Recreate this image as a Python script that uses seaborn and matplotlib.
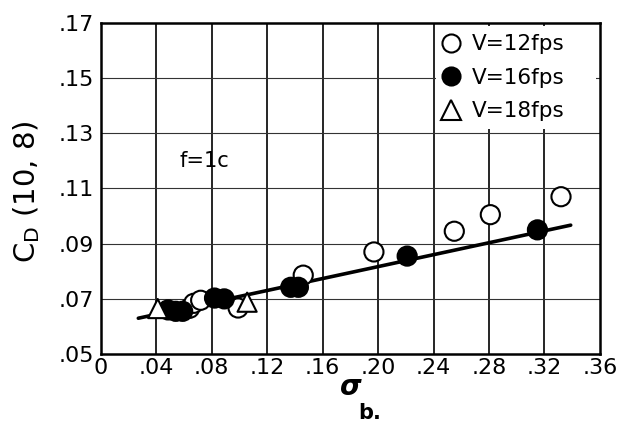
import matplotlib
matplotlib.use("Agg")
import matplotlib.pyplot as plt
from matplotlib.patches import Rectangle
from matplotlib.lines import Line2D
import seaborn as sns
import pandas as pd

# Drag coefficient vs. cavitation number, f = 1c
sigma_12 = [0.064, 0.067, 0.072, 0.099, 0.146, 0.197, 0.255, 0.281, 0.332]
cd_12 = [0.0666, 0.0684, 0.0695, 0.0667, 0.0786, 0.087, 0.0945, 0.1005, 0.107]

sigma_16 = [0.0485, 0.054, 0.059, 0.082, 0.089, 0.137, 0.1425, 0.221, 0.315]
cd_16 = [0.066, 0.0655, 0.0655, 0.0703, 0.0700, 0.0742, 0.0742, 0.0855, 0.095]

sigma_18 = [0.041, 0.1055]
cd_18 = [0.0665, 0.0688]

# Faired line through the data
fit_sigma = [0.027, 0.339]
fit_cd = [0.063, 0.0967]

series_labels = ["V=12fps", "V=16fps", "V=18fps"]
x_ticks = [0, 0.04, 0.08, 0.12, 0.16, 0.20, 0.24, 0.28, 0.32, 0.36]
x_tick_labels = ["0", ".04", ".08", ".12", ".16", ".20", ".24", ".28", ".32", ".36"]
y_ticks = [0.05, 0.07, 0.09, 0.11, 0.13, 0.15, 0.17]
y_tick_labels = [".05", ".07", ".09", ".11", ".13", ".15", ".17"]

df = pd.concat([
    pd.DataFrame({"sigma": sigma_12, "cd": cd_12, "V": series_labels[0]}),
    pd.DataFrame({"sigma": sigma_16, "cd": cd_16, "V": series_labels[1]}),
    pd.DataFrame({"sigma": sigma_18, "cd": cd_18, "V": series_labels[2]}),
], ignore_index=True)
fit = pd.DataFrame({"sigma": fit_sigma, "cd": fit_cd})

sns.set_style("white")
plt.rcParams["font.family"] = ["DejaVu Sans"]
plt.rcParams["text.color"] = "black"
plt.rcParams["xtick.color"] = "black"
plt.rcParams["ytick.color"] = "black"
plt.rcParams["axes.labelcolor"] = "black"

fig = plt.figure(figsize=(6.19, 4.46), dpi=100)
ax = fig.add_axes([0.163, 0.206, 0.806, 0.743])

ax.set_xlim(0, 0.36)
ax.set_ylim(0.05, 0.17)

# grid drawn by hand so vertical and horizontal rules can differ
for xv in x_ticks[1:-1]:
    ax.axvline(xv, color="black", lw=1.2, zorder=1)
for yv in y_ticks[1:-1]:
    ax.axhline(yv, color="#333333", lw=0.8, zorder=1)

sns.lineplot(data=fit, x="sigma", y="cd", color="black", lw=2.6, ax=ax,
             zorder=3, legend=False)

palette = {series_labels[0]: "white", series_labels[1]: "black", series_labels[2]: "white"}
markers = {series_labels[0]: "o", series_labels[1]: "o", series_labels[2]: "^"}
sns.scatterplot(data=df, x="sigma", y="cd", hue="V", style="V",
                palette=palette, markers=markers, s=190, edgecolor="black",
                linewidth=1.5, ax=ax, zorder=4, legend=False)

# legend panel occupying the upper-right grid cells
ax.add_patch(Rectangle((0.2415, 0.1315), 0.36 - 0.2415 - 0.0025, 0.17 - 0.1315 - 0.0012,
                       facecolor="white", edgecolor="none", zorder=2))
handles = [
    Line2D([], [], ls="none", marker="o", ms=13, mfc="white", mec="black", mew=1.5),
    Line2D([], [], ls="none", marker="o", ms=13, mfc="black", mec="black", mew=1.5),
    Line2D([], [], ls="none", marker="^", ms=14, mfc="white", mec="black", mew=1.5),
]
leg = ax.legend(handles, series_labels, loc="upper left",
                bbox_to_anchor=(0.2395, 0.1685), bbox_transform=ax.transData,
                frameon=False, prop={"size": 15.5},
                handletextpad=0.45, labelspacing=0.62, borderaxespad=0.0,
                borderpad=0.35, handlelength=1.0)
leg.set_zorder(5)

ax.text(0.075, 0.12, "f=1c", fontsize=15, ha="center", va="center", zorder=5)

ax.set_xticks(x_ticks)
ax.set_xticklabels(x_tick_labels, fontsize=16)
ax.set_yticks(y_ticks)
ax.set_yticklabels(y_tick_labels, fontsize=16)
ax.tick_params(axis="x", length=0, pad=3)
ax.tick_params(axis="y", length=0, pad=5)

for sp in ax.spines.values():
    sp.set_visible(True)
    sp.set_color("black")
    sp.set_linewidth(1.8)

ax.set_xlabel(r"$\boldsymbol{\sigma}$", fontsize=20, labelpad=-4)
ax.set_ylabel(r"C$_\mathregular{D}$ (10, 8)", fontsize=21, labelpad=6)
ax.yaxis.set_label_coords(-0.118, 0.49)

fig.text(0.598, 0.075, "b.", fontsize=15, fontweight="bold", ha="center", va="center")

fig.savefig("out.png", dpi=100)
